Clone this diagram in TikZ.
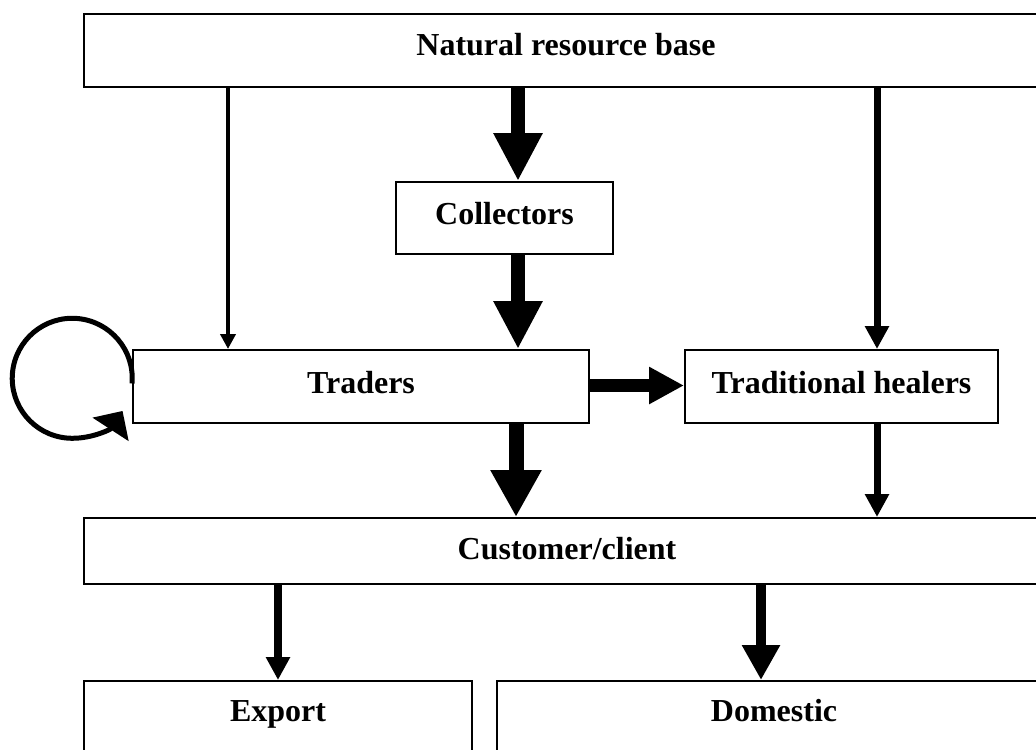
\documentclass[tikz,border=0pt]{standalone}
\usepackage{fontspec}
\setmainfont{Liberation Serif}
\usetikzlibrary{arrows.meta}
\begin{document}
\begin{tikzpicture}[x=0.5pt,y=-0.5pt,
  box/.style n args={3}{draw, line width=1pt, rectangle, inner sep=0pt, anchor=north west,
    minimum width=#1, minimum height=#2, text height=12pt, text depth=#3,
    font=\fontsize{16pt}{19pt}\selectfont\bfseries},
  arr/.style n args={3}{line width=#1, -{Triangle[width=#2,length=#3]}},
  loopline/.style={line width=2.5pt, -{Triangle[width=21pt,length=11pt]}}]
\useasboundingbox (0,0) rectangle (1036,749);
\fill[white] (0,0) rectangle (1036,749);
\clip (0,0) rectangle (1036,749);
\node[box={482pt}{36.5pt}{6.5pt}] (nrb) at (83,13) {Natural resource base};
\node[box={108.5pt}{36pt}{6pt}] (col) at (395,181) {Collectors};
\node[box={228pt}{36.5pt}{5.5pt}] (tra) at (132,349) {Traders};
\node[box={156.5pt}{36.5pt}{5.5pt}] (hea) at (684,349) {Traditional healers};
\node[box={483pt}{33pt}{4pt}] (cus) at (83,517) {Customer/client};
\node[box={194pt}{37.5pt}{9.5pt}] (exp) at (83,680) {Export};
\node[box={277pt}{37.5pt}{9.5pt}] (dom) at (496,680) {Domestic};
% arrows
\draw[arr={2pt}{7.5pt}{7.5pt}] (228,0 |- nrb.south) -- (228,0 |- tra.north);
\draw[arr={7pt}{23pt}{24pt}] (518,0 |- nrb.south) -- (518,0 |- col.north);
\draw[arr={3.5pt}{11.5pt}{11.5pt}] (877,0 |- nrb.south) -- (877,0 |- hea.north);
\draw[arr={7pt}{23pt}{24pt}] (518,0 |- col.south) -- (518,0 |- tra.north);
\draw[arr={6.5pt}{17.5pt}{17.5pt}] (0,385.5 -| tra.east) -- (0,385.5 -| hea.west);
\draw[arr={7.5pt}{24pt}{23.5pt}] (516,0 |- tra.south) -- (516,0 |- cus.north);
\draw[arr={3.5pt}{11.5pt}{11.5pt}] (877,0 |- hea.south) -- (877,0 |- cus.north);
\draw[arr={4.25pt}{11.5pt}{11.5pt}] (278,0 |- cus.south) -- (278,0 |- exp.north);
\draw[arr={5pt}{18pt}{17.5pt}] (761,0 |- cus.south) -- (761,0 |- dom.north);
% self loop on traders
\draw[loopline] ([yshift=1.5pt]tra.west) arc[start angle=5, end angle=-327, radius=60];
\end{tikzpicture}
\end{document}
